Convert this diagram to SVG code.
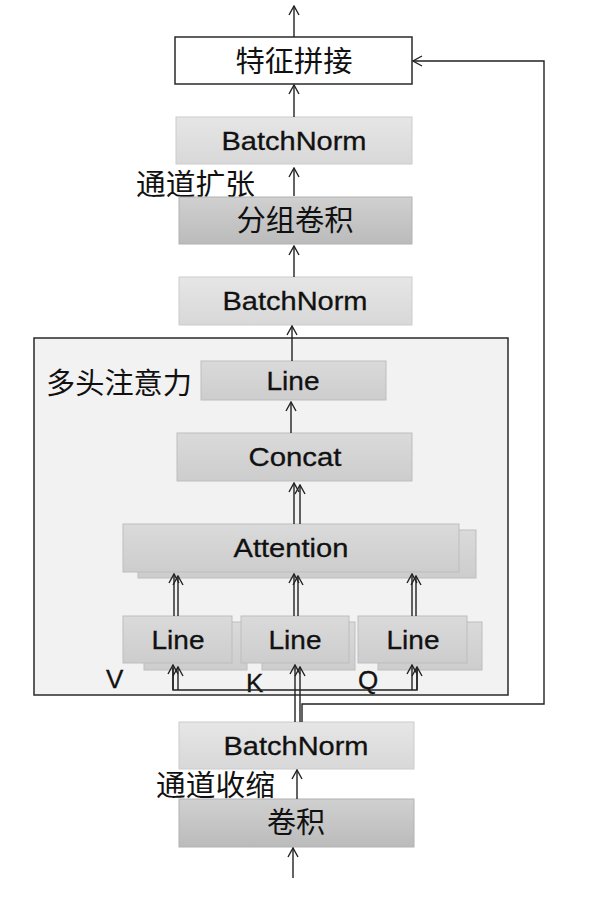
<svg xmlns="http://www.w3.org/2000/svg" width="592" height="901" viewBox="0 0 592 901">
<defs>
<linearGradient id="gl" x1="0" y1="0" x2="0" y2="1"><stop offset="0" stop-color="#e6e6e6"/><stop offset="1" stop-color="#d8d8d8"/></linearGradient>
<linearGradient id="gd" x1="0" y1="0" x2="0" y2="1"><stop offset="0" stop-color="#d0d0d0"/><stop offset="1" stop-color="#bbbbbb"/></linearGradient>
<linearGradient id="gm" x1="0" y1="0" x2="0" y2="1"><stop offset="0" stop-color="#dadada"/><stop offset="1" stop-color="#cdcdcd"/></linearGradient>
<marker id="ah" viewBox="0 0 12 12" refX="11" refY="6" markerWidth="12" markerHeight="12" markerUnits="userSpaceOnUse" orient="auto">
<path d="M2,1 L11,6 L2,11" fill="none" stroke="#222" stroke-width="1.4"/>
</marker>
<style>
.lt{fill:url(#gl);stroke:#cccccc;stroke-width:1}
.dk{fill:url(#gd);stroke:#b2b2b2;stroke-width:1}
.md{fill:url(#gm);stroke:#bdbdbd;stroke-width:1}
.en{font-family:"Liberation Sans",Arial,sans-serif;font-size:26px;fill:#111;stroke:#111;stroke-width:0.3;text-anchor:middle}
.zh{font-family:"Noto Sans CJK SC","Noto Sans",sans-serif;font-size:29px;fill:#111}
.zc{text-anchor:middle}
.ln{fill:none;stroke:#222;stroke-width:1.4}
.ar{fill:none;stroke:#222;stroke-width:1.4;marker-end:url(#ah)}
</style>
</defs>

<g id="container">
<rect x="34" y="338" width="474" height="357" fill="#f2f2f2" stroke="#2a2a2a" stroke-width="1.5"/>
<text class="zh" x="46" y="394" textLength="146" lengthAdjust="spacingAndGlyphs">多头注意力</text>
</g>

<g id="concat-feat">
<rect x="175" y="37" width="237" height="47" fill="#ffffff" stroke="#2a2a2a" stroke-width="1.5"/>
<text class="zh zc" x="294" y="72" textLength="117" lengthAdjust="spacingAndGlyphs">特征拼接</text>
</g>
<g id="bn1">
<rect class="lt" x="176" y="117" width="236" height="47"/>
<text class="en" x="294" y="150" textLength="145" lengthAdjust="spacingAndGlyphs">BatchNorm</text>
</g>
<text class="zh" x="136" y="195" textLength="119" lengthAdjust="spacingAndGlyphs">通道扩张</text>
<g id="gconv">
<rect class="dk" x="179" y="197" width="233" height="47"/>
<text class="zh zc" x="295" y="231" textLength="117" lengthAdjust="spacingAndGlyphs">分组卷积</text>
</g>
<g id="bn2">
<rect class="lt" x="179" y="277" width="233" height="48"/>
<text class="en" x="295" y="310" textLength="145" lengthAdjust="spacingAndGlyphs">BatchNorm</text>
</g>
<g id="line-out">
<rect class="md" x="201" y="361" width="185" height="39"/>
<text class="en" x="293" y="390" textLength="53" lengthAdjust="spacingAndGlyphs">Line</text>
</g>
<g id="concat">
<rect class="md" x="177" y="433" width="235" height="48"/>
<text class="en" x="295" y="466" textLength="93" lengthAdjust="spacingAndGlyphs">Concat</text>
</g>
<g id="attention">
<rect class="md" x="138" y="530" width="338" height="48"/>
<rect class="md" x="123" y="524" width="336" height="48"/>
<text class="en" x="291" y="557" textLength="115" lengthAdjust="spacingAndGlyphs">Attention</text>
</g>
<g id="line-v">
<rect class="md" x="144" y="622" width="103" height="48"/>
<rect class="md" x="123" y="616" width="109" height="47"/>
<text class="en" x="178" y="649" textLength="53" lengthAdjust="spacingAndGlyphs">Line</text>
</g>
<g id="line-k">
<rect class="md" x="262" y="622" width="93" height="48"/>
<rect class="md" x="241" y="616" width="108" height="47"/>
<text class="en" x="295" y="649" textLength="53" lengthAdjust="spacingAndGlyphs">Line</text>
</g>
<g id="line-q">
<rect class="md" x="378" y="622" width="104" height="48"/>
<rect class="md" x="358" y="616" width="109" height="47"/>
<text class="en" x="413" y="649" textLength="53" lengthAdjust="spacingAndGlyphs">Line</text>
</g>
<g id="labels" font-family="Liberation Sans, Arial, sans-serif" font-size="26" fill="#111" stroke="#111" stroke-width="0.3">
<text x="106" y="688">V</text>
<text x="246" y="692">K</text>
<text x="358" y="689">Q</text>
</g>
<g id="bn3">
<rect class="lt" x="179" y="722" width="235" height="47"/>
<text class="en" x="296" y="755" textLength="145" lengthAdjust="spacingAndGlyphs">BatchNorm</text>
</g>
<text class="zh" x="156" y="796" textLength="119" lengthAdjust="spacingAndGlyphs">通道收缩</text>
<g id="conv">
<rect class="dk" x="179" y="799" width="235" height="48"/>
<text class="zh zc" x="296" y="833" textLength="58" lengthAdjust="spacingAndGlyphs">卷积</text>
</g>

<g id="connectors">
<line class="ar" x1="294" y1="37" x2="294" y2="6"/>
<line class="ar" x1="294" y1="117" x2="294" y2="85"/>
<line class="ar" x1="294" y1="196" x2="294" y2="168"/>
<line class="ar" x1="294" y1="277" x2="294" y2="246"/>
<line class="ar" x1="292" y1="361" x2="292" y2="326"/>
<line class="ar" x1="291" y1="433" x2="291" y2="402"/>
<line class="ar" x1="294" y1="524" x2="294" y2="483"/>
<line class="ar" x1="300" y1="524" x2="300" y2="485"/>
<line class="ar" x1="174" y1="616" x2="174" y2="574"/>
<line class="ar" x1="178" y1="616" x2="178" y2="576"/>
<line class="ar" x1="294" y1="616" x2="294" y2="574"/>
<line class="ar" x1="298" y1="616" x2="298" y2="576"/>
<line class="ar" x1="412" y1="616" x2="412" y2="574"/>
<line class="ar" x1="416" y1="616" x2="416" y2="576"/>
<polyline class="ln" points="173,668 173,690 417,690 417,668"/>
<line class="ar" x1="173" y1="690" x2="173" y2="665"/>
<line class="ar" x1="178" y1="690" x2="178" y2="667"/>
<line class="ar" x1="412" y1="690" x2="412" y2="665"/>
<line class="ar" x1="417" y1="690" x2="417" y2="667"/>
<line class="ar" x1="295" y1="722" x2="295" y2="665"/>
<line class="ar" x1="300" y1="722" x2="300" y2="667"/>
<polyline class="ar" points="302,722 302,704 544,704 544,61 413,61"/>
<line class="ar" x1="297" y1="799" x2="297" y2="770"/>
<line class="ar" x1="293" y1="878" x2="293" y2="848"/>
</g>
</svg>
